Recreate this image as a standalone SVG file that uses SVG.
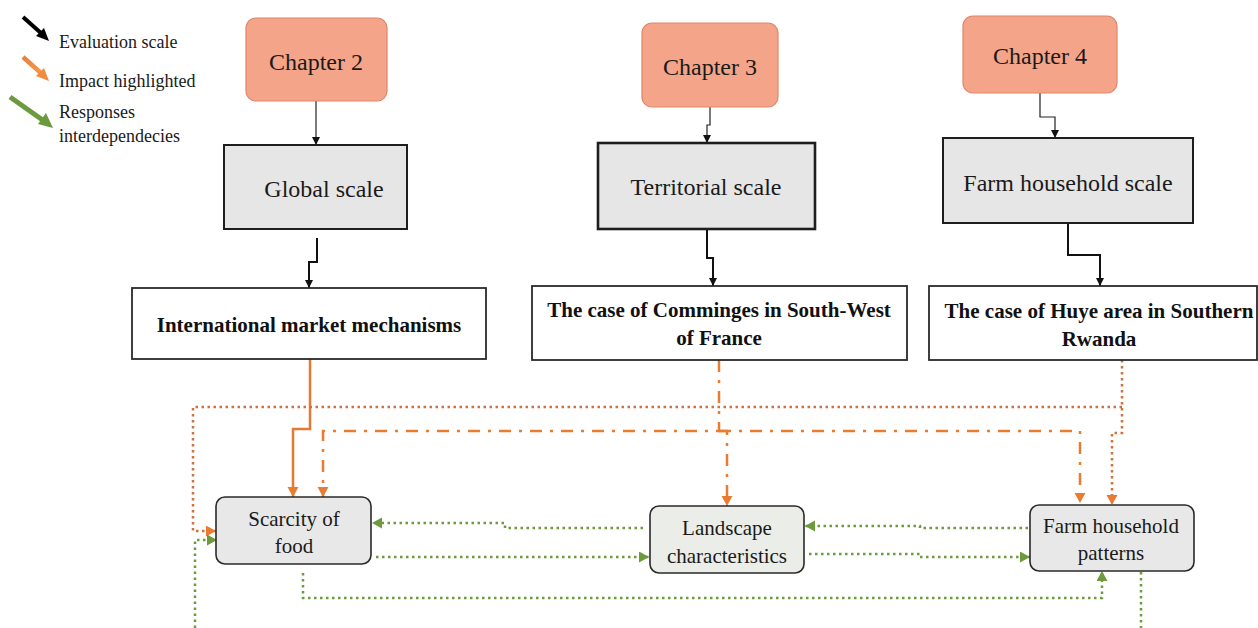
<svg xmlns="http://www.w3.org/2000/svg" width="1258" height="628" viewBox="0 0 1258 628">
  <style>
    .chapter { fill: #F4A489; stroke: #E0866A; stroke-width: 1.2; }
    .scale { fill: #E6E6E6; stroke: #1e1e1e; stroke-width: 2; }
    .case { fill: #ffffff; stroke: #2a2a2a; stroke-width: 1.8; }
    .factor { fill: #E8E8E8; stroke: #2a2a2a; stroke-width: 1.6; }
    .eval-thin { fill: none; stroke: #222; stroke-width: 1.2; marker-end: url(#ahBlack); }
    .eval { fill: none; stroke: #111; stroke-width: 2; marker-end: url(#ahBlack); }
    .imp-solid { fill: none; stroke: #E57A35; stroke-width: 2.5; marker-end: url(#ahOrange); }
    .imp-dot { fill: none; stroke: #CC7440; stroke-width: 2.5; stroke-dasharray: 2.5 3.5; marker-end: url(#ahOrange); }
    .imp-dashdot { fill: none; stroke: #E97C30; stroke-width: 2.5; stroke-dasharray: 12 8 3 8; marker-end: url(#ahOrange); }
    .resp { fill: none; stroke: #6C9A3D; stroke-width: 2.5; stroke-dasharray: 2.5 3.5; marker-end: url(#ahGreen); }
    .resp-open { fill: none; stroke: #6C9A3D; stroke-width: 2.5; stroke-dasharray: 2.5 3.5; }
  </style>
  <defs>
    <marker id="ahBlack" markerUnits="userSpaceOnUse" markerWidth="9" markerHeight="9" refX="8" refY="4" orient="auto">
      <path d="M0,0 L8,4 L0,8 Z" fill="#111"/>
    </marker>
    <marker id="ahOrange" markerUnits="userSpaceOnUse" markerWidth="12" markerHeight="12" refX="10" refY="5.5" orient="auto">
      <path d="M0,0 L10,5.5 L0,11 Z" fill="#E97C30"/>
    </marker>
    <marker id="ahGreen" markerUnits="userSpaceOnUse" markerWidth="12" markerHeight="12" refX="10" refY="5.5" orient="auto">
      <path d="M0,0 L10,5.5 L0,11 Z" fill="#6C9A3D"/>
    </marker>
    <linearGradient id="orangeArrow" x1="0" y1="0" x2="1" y2="1">
      <stop offset="0" stop-color="#E8823E"/>
      <stop offset="1" stop-color="#F29A4E"/>
    </linearGradient>
  </defs>

  <!-- legend -->
  <g id="legend">
    <line x1="23" y1="17" x2="42" y2="34" stroke="#000" stroke-width="4"/>
    <path d="M49,41 L36,36 L44,28 Z" fill="#000"/>
    <line x1="23" y1="57" x2="42" y2="74" stroke="url(#orangeArrow)" stroke-width="4.5"/>
    <path d="M49,81 L36,76 L44,68 Z" fill="#F08C3E"/>
    <line x1="10" y1="97" x2="44" y2="121" stroke="#6E9A3F" stroke-width="5"/>
    <path d="M53,128 L38,124 L46,113 Z" fill="#6E9A3F"/>
    <g font-family="Liberation Serif, Times New Roman, serif" font-size="18" fill="#1a1a1a">
      <text x="59" y="48">Evaluation  scale</text>
      <text x="59" y="87">Impact highlighted</text>
      <text x="59" y="118">Responses</text>
      <text x="59" y="142">interdependecies</text>
    </g>
  </g>

  <!-- connectors -->
  <g id="connectors">
    <!-- evaluation scale -->
    <path class="eval-thin" d="M316,101 V145"/>
    <path class="eval" d="M317,238 V262 H309 V288"/>
    <path class="eval-thin" d="M710,107 V125 H707 V143"/>
    <path class="eval" d="M707,229 V258 H713 V286"/>
    <path class="eval-thin" d="M1040,93 V117 H1055 V138"/>
    <path class="eval" d="M1068,223 V255 H1100 V286"/>

    <!-- impacts -->
    <path class="imp-solid" d="M310,359 V429 H293 V497"/>
    <path class="imp-dot" d="M1122,360 V433 H1112 V505"/>
    <path class="imp-dot" d="M1122,407 H193 V531 H216"/>
    <path class="imp-dashdot" d="M719,360 V431 H323 V497"/>
    <path class="imp-dashdot" d="M719,431 H727 V506"/>
    <path class="imp-dashdot" d="M719,431 H1080 V503"/>

    <!-- responses / interdependencies -->
    <path class="resp" d="M643,528 H505 V523 H372"/>
    <path class="resp" d="M376,557 H649"/>
    <path class="resp" d="M1028,528 H920 V526 H805"/>
    <path class="resp" d="M809,554 H920 V557 H1030"/>
    <path class="resp" d="M303,573 V598 H1102 V571"/>
    <path class="resp-open" d="M1141,572 V628"/>
    <path class="resp" d="M195,628 V540 H217"/>
  </g>

  <g font-family="Liberation Serif, Times New Roman, serif" fill="#1a1a1a" text-anchor="middle">
    <!-- chapters -->
    <g id="chapter2" font-size="24">
      <rect class="chapter" x="246" y="18" width="141" height="83" rx="10"/>
      <text x="316" y="70">Chapter 2</text>
    </g>
    <g id="chapter3" font-size="24">
      <rect class="chapter" x="642" y="23" width="136" height="84" rx="10"/>
      <text x="710" y="75">Chapter 3</text>
    </g>
    <g id="chapter4" font-size="24">
      <rect class="chapter" x="963" y="16" width="154" height="77" rx="10"/>
      <text x="1040" y="64">Chapter 4</text>
    </g>

    <!-- evaluation scales -->
    <g id="global-scale" font-size="24">
      <rect class="scale" x="224" y="145" width="183" height="84"/>
      <text x="324" y="197">Global scale</text>
    </g>
    <g id="territorial-scale" font-size="24">
      <rect class="scale" x="598" y="143" width="217" height="86" style="stroke-width:2.6"/>
      <text x="706" y="195">Territorial scale</text>
    </g>
    <g id="farm-household-scale" font-size="24">
      <rect class="scale" x="943" y="138" width="250" height="85"/>
      <text x="1068" y="191">Farm household scale</text>
    </g>

    <!-- case studies -->
    <g id="international-market" font-size="21" font-weight="bold" fill="#111">
      <rect class="case" x="132" y="288" width="354" height="71"/>
      <text x="309" y="332">International  market  mechanisms</text>
    </g>
    <g id="comminges" font-size="21" font-weight="bold" fill="#111">
      <rect class="case" x="532" y="286" width="375" height="74"/>
      <text x="719" y="317">The case of Comminges in South-West</text>
      <text x="719" y="345">of France</text>
    </g>
    <g id="huye" font-size="21" font-weight="bold" fill="#111">
      <rect class="case" x="929" y="286" width="328" height="74"/>
      <text x="1099" y="318">The case of Huye area in Southern</text>
      <text x="1099" y="346">Rwanda</text>
    </g>

    <!-- interacting factors -->
    <g id="scarcity-of-food" font-size="21">
      <rect class="factor" x="216" y="497" width="155" height="67" rx="9"/>
      <text x="294" y="526">Scarcity  of</text>
      <text x="294" y="553">food</text>
    </g>
    <g id="landscape-characteristics" font-size="21">
      <rect class="factor" x="650" y="506" width="154" height="67" rx="9" style="fill:#EAEDE8"/>
      <text x="727" y="535">Landscape</text>
      <text x="727" y="563">characteristics</text>
    </g>
    <g id="farm-household-patterns" font-size="21">
      <rect class="factor" x="1030" y="505" width="164" height="66" rx="9"/>
      <text x="1111" y="533">Farm household</text>
      <text x="1111" y="560">patterns</text>
    </g>
  </g>
</svg>
